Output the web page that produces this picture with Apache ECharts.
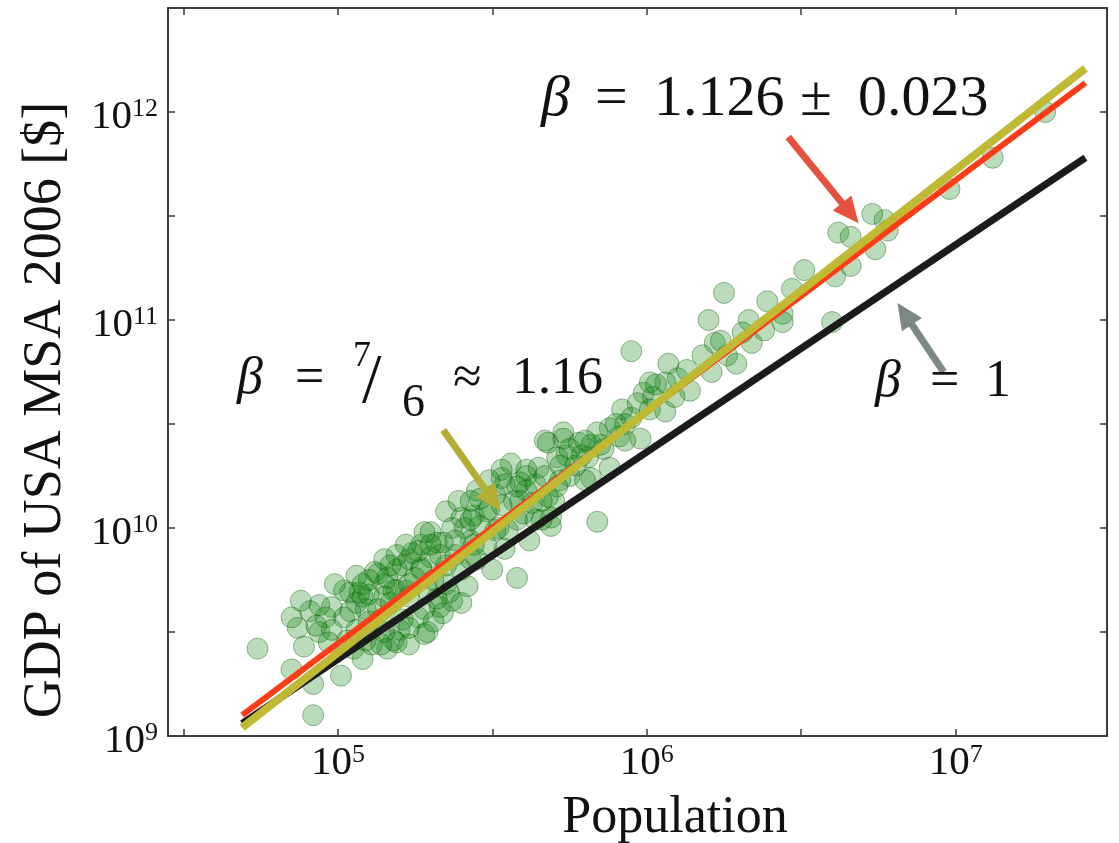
<!DOCTYPE html>
<html>
<head>
<meta charset="utf-8">
<title>GDP vs Population, USA MSA 2006</title>
<script src="https://cdn.jsdelivr.net/npm/echarts@6/dist/echarts.min.js"></script>
<style>
  html, body { margin: 0; padding: 0; background: #fff; }
  #chart { width: 1119px; height: 843px; }
</style>
</head>
<body>
<div id="chart"></div>
<script>
const popLog10 = [
  4.74, 4.92, 4.85, 4.91, 4.87, 4.89, 4.85, 4.92, 4.94, 4.98,
  4.96, 5.01, 5.08, 5.04, 5.08, 5.12, 5.08, 5.15, 5.21, 5.06,
  5.10, 5.13, 5.02, 4.98, 4.97, 5.17, 5.19, 5.23, 5.27, 5.26,
  5.28, 5.20, 5.18, 5.16, 5.11, 5.19, 5.15, 5.29, 5.34, 5.37,
  5.28, 5.21, 5.19, 5.13, 5.05, 5.06, 5.10,
  5.35, 5.30, 5.27, 5.23, 5.16, 5.24, 5.32, 5.40, 5.44, 5.48,
  5.45, 5.56, 5.53, 5.59, 5.65, 5.68, 5.73, 5.74, 5.72, 5.70,
  5.69, 5.62, 5.58, 5.50, 5.41, 5.37, 5.34, 5.30, 5.27, 5.36,
  5.40, 5.33, 5.57, 5.60, 5.52, 5.55, 5.18, 5.28, 5.26, 5.43,
  5.49, 5.51, 5.58, 5.42, 5.45, 5.31, 5.48,
  5.95, 6.07, 6.18, 6.22, 6.21, 6.10, 6.06, 6.01, 5.99, 6.02,
  6.06, 6.09, 5.97, 5.92, 5.95, 5.98, 5.91, 5.88, 5.84, 5.82,
  5.78, 5.73, 5.67, 5.71, 5.75, 5.81, 5.86, 5.88, 5.82, 5.75,
  5.71, 5.63, 5.61, 5.61, 5.68, 5.69, 5.84, 5.80,
  6.25, 6.20, 6.39, 6.33, 6.44, 6.44, 6.38, 6.31, 6.24, 6.34,
  6.29, 6.47, 6.51, 6.61, 6.66, 6.60, 6.62, 6.66, 6.73, 6.77,
  6.78, 6.74, 6.98, 7.12, 7.29,
  5.46, 5.53, 5.43, 5.64, 5.38, 5.23, 5.09, 5.14, 5.03, 5.66,
  5.77, 5.93, 5.54,
  5.04, 5.07, 5.15, 5.22, 5.25, 5.29, 5.32, 5.23, 5.31, 5.35,
  5.40, 5.43, 5.35, 5.19, 5.15, 5.10, 5.02, 4.94, 5.14, 5.23,
  5.09, 5.51, 5.58, 5.46, 5.54, 5.61, 5.67, 5.66, 5.72, 5.79,
  5.80, 5.85, 5.90, 5.93, 6.01, 6.03, 6.13, 6.14, 6.26, 5.43,
  5.38, 5.33, 5.44, 5.59, 5.64, 5.53, 5.49, 5.39, 5.30, 5.22,
  5.17, 5.06, 4.99, 4.88, 4.93
];
const gdpLog10 = [
  9.42, 9.10, 9.57, 9.60, 9.52, 9.43, 9.32, 9.25, 9.50, 9.62,
  9.57, 9.29, 9.37, 9.69, 9.67, 9.79, 9.73, 9.73, 9.82, 9.64,
  9.68, 9.61, 9.57, 9.51, 9.45, 9.64, 9.70, 9.67, 9.81, 9.57,
  9.49, 9.51, 9.46, 9.42, 9.44, 9.45, 9.50, 9.50, 9.59, 9.65,
  9.61, 9.56, 9.80, 9.78, 9.42, 9.51, 9.55,
  10.08, 9.98, 9.92, 9.85, 9.76, 9.88, 9.93, 10.05, 10.06, 10.08,
  10.18, 10.31, 10.24, 10.22, 10.29, 10.41, 10.43, 10.35, 10.23, 10.13,
  10.01, 9.94, 9.76, 9.80, 10.00, 10.00, 9.93, 9.86, 9.80, 9.69,
  9.64, 9.62, 10.13, 10.07, 10.00, 9.99, 9.70, 9.98, 9.89, 9.94,
  10.09, 10.16, 10.20, 9.72, 9.85, 9.75, 9.92,
  10.85, 10.79, 10.83, 10.89, 10.75, 10.72, 10.70, 10.70, 10.65, 10.63,
  10.56, 10.63, 10.60, 10.57, 10.53, 10.43, 10.44, 10.48, 10.46, 10.40,
  10.41, 10.46, 10.42, 10.34, 10.38, 10.34, 10.38, 10.29, 10.24, 10.25,
  10.20, 10.12, 10.25, 10.18, 10.15, 10.05, 10.03, 10.23,
  11.13, 11.00, 11.09, 11.00, 11.03, 10.99, 10.95, 10.94, 10.90, 10.89,
  10.79, 11.15, 11.24, 11.21, 11.26, 10.99, 11.42, 11.40, 11.51, 11.48,
  11.43, 11.34, 11.63, 11.78, 12.00,
  10.01, 10.11, 10.13, 10.21, 9.87, 9.73, 9.61, 9.56, 9.46, 10.04,
  10.30, 10.50, 9.90,
  9.60, 9.69, 9.67, 9.70, 9.76, 9.70, 9.66, 9.52, 9.55, 9.73,
  9.80, 9.85, 9.82, 9.87, 9.85, 9.75, 9.70, 9.63, 9.44, 9.44,
  9.46, 9.99, 10.04, 10.14, 10.21, 10.28, 10.25, 10.13, 10.30, 10.35,
  10.42, 10.40, 10.50, 10.42, 10.57, 10.69, 10.76, 10.66, 10.83, 10.04,
  9.94, 9.87, 9.92, 10.13, 10.04, 10.28, 10.23, 10.13, 9.92, 9.92,
  9.82, 9.77, 9.73, 9.65, 9.53
];

// fitted lines, end points in decades
const fitPop = [4.69, 7.42];
const gdpBeta1 = [9.06, 11.78];
const gdpBetaFit = [9.10, 12.14];
const gdpBeta76 = [9.04, 12.21];

const xTicks = [4.5, 5, 5.5, 6, 6.5, 7, 7.5];
const xLabels = [5, 6, 7];
const yTicks = [9, 9.5, 10, 10.5, 11, 11.5, 12, 12.5];
const yLabels = [9, 10, 11, 12];

const FONT = 'Liberation Serif';
const frame = '#3c3c3c';

const chart = echarts.init(document.getElementById('chart'));

function pow10Label(v) {
  return '{b|10}{s|' + v + '}';
}
const richLabel = {
  b: { fontFamily: FONT, fontSize: 41, color: '#111', lineHeight: 42 },
  s: { fontFamily: FONT, fontSize: 26, color: '#111', verticalAlign: 'top', lineHeight: 42 }
};

function axisBase(isX, show) {
  return {
    type: 'value',
    min: isX ? 4.45 : 9,
    max: isX ? 7.49 : 12.5,
    axisLine: { show: true, onZero: false, lineStyle: { color: frame, width: 2 } },
    axisTick: {
      show: true, inside: true, length: 7,
      customValues: isX ? xTicks : yTicks,
      lineStyle: { color: frame, width: 1.5 }
    },
    axisLabel: {
      show: show,
      customValues: isX ? xLabels : yLabels,
      formatter: pow10Label,
      rich: richLabel,
      margin: isX ? 6 : 10,
      padding: isX ? 0 : [10, 0, 0, 0]
    },
    splitLine: { show: false }
  };
}

function txt(x, y, text, size, italic) {
  return {
    type: 'text', x: x, y: y, z: 100,
    style: {
      text: text,
      font: (italic ? 'italic ' : '') + size + 'px "' + FONT + '"',
      fill: '#111',
      textAlign: 'left',
      textVerticalAlign: 'middle'
    }
  };
}

function arrow(from, to, color) {
  return [
    { coord: from, lineStyle: { color: color, width: 7, type: 'solid' } },
    { coord: to }
  ];
}

chart.setOption({
  backgroundColor: '#fff',
  animation: false,
  grid: { left: 168, right: 12, top: 8, bottom: 107 },
  xAxis: [
    Object.assign(axisBase(true, true), { position: 'bottom' }),
    Object.assign(axisBase(true, false), { position: 'top' })
  ],
  yAxis: [
    Object.assign(axisBase(false, true), { position: 'left' }),
    Object.assign(axisBase(false, false), { position: 'right' })
  ],
  graphic: [
    {
      type: 'text', x: 675, y: 818,
      style: { text: 'Population', font: '52px "' + FONT + '"', fill: '#111', textAlign: 'center', textVerticalAlign: 'middle' }
    },
    {
      type: 'text', x: 46, y: 410, rotation: Math.PI / 2,
      style: { text: 'GDP of USA MSA 2006 [$]', font: '54px "' + FONT + '"', fill: '#111', textAlign: 'center', textVerticalAlign: 'middle' }
    },
    // β = 1.126 ± 0.023
    txt(541, 100, 'β', 58, true),
    txt(595, 100, '=', 58),
    txt(654, 100, '1.126', 58),
    txt(800, 100, '±', 58),
    txt(858, 100, '0.023', 58),
    // β = 7/6 ≈ 1.16
    txt(237, 379, 'β', 52, true),
    txt(295, 379, '=', 52),
    txt(353, 357, '7', 36),
    txt(362, 384, '/', 70),
    txt(402, 404, '6', 46),
    txt(453, 379, '≈', 52),
    txt(512, 379, '1.16', 52),
    // β = 1
    txt(875, 382, 'β', 52, true),
    txt(930, 382, '=', 52),
    txt(985, 382, '1', 52)
  ],
  series: [
    {
      name: 'MSA',
      type: 'scatter',
      symbolSize: 21,
      itemStyle: {
        color: 'rgba(20,135,20,0.37)',
        borderColor: 'rgba(0,85,0,0.5)',
        borderWidth: 1
      },
      data: popLog10.map((x, i) => [x, gdpLog10[i]]),
      z: 2
    },
    {
      name: 'beta = 1',
      type: 'line',
      showSymbol: false,
      lineStyle: { color: '#1b1b1b', width: 7 },
      data: fitPop.map((x, i) => [x, gdpBeta1[i]]),
      z: 3
    },
    {
      name: 'beta = 1.126',
      type: 'line',
      showSymbol: false,
      lineStyle: { color: '#ff3c18', width: 6 },
      data: fitPop.map((x, i) => [x, gdpBetaFit[i]]),
      z: 4
    },
    {
      name: 'beta = 7/6',
      type: 'line',
      showSymbol: false,
      lineStyle: { color: '#bfb933', width: 8 },
      data: fitPop.map((x, i) => [x, gdpBeta76[i]]),
      z: 5
    },
    {
      name: 'arrows',
      type: 'scatter',
      data: [],
      z: 6,
      markLine: {
        silent: true,
        animation: false,
        symbol: ['none', 'triangle'],
        symbolSize: [24, 26],
        label: { show: false },
        data: [
          arrow([6.458, 11.88], [6.659, 11.514], '#e5503f'),
          arrow([5.341, 10.471], [5.502, 10.133], '#b4ae34'),
          arrow([6.961, 10.75], [6.835, 11.03], '#7d8785')
        ]
      }
    }
  ]
});
</script>
</body>
</html>
